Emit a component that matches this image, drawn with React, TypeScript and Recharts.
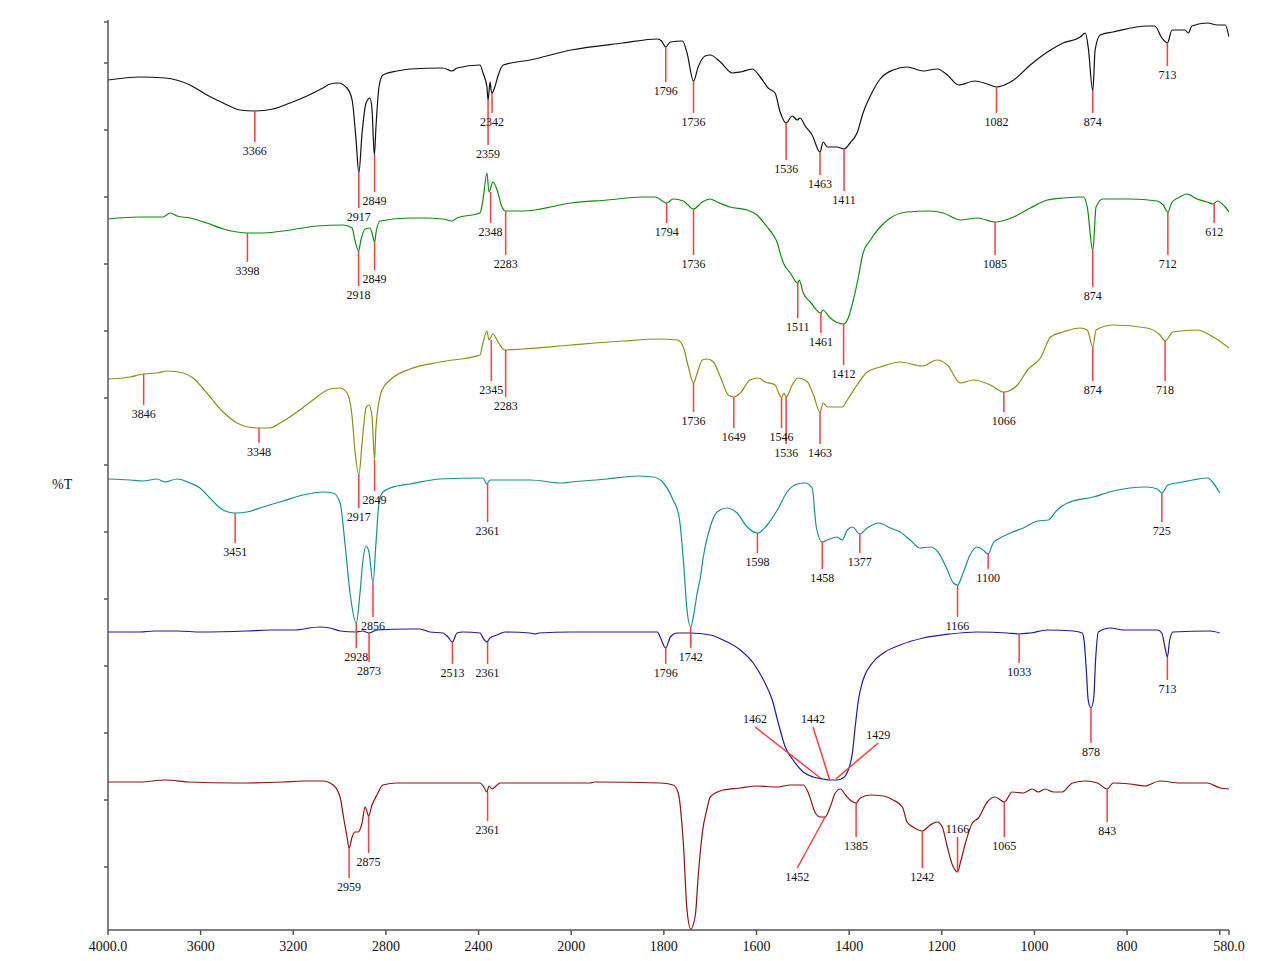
import { ComposedChart, Line, XAxis, YAxis, ReferenceLine, ReferenceDot } from "recharts";

// split wavenumber axis: 4000-2000 is squeezed 2x, 2000-580 is full scale
const toU = (w: number) => (w >= 2000 ? (4000 - w) / 2 : 3000 - w);
const fromU = (u: number) => (u <= 1000 ? 4000 - 2 * u : 3000 - u);

const xTicks = [4000, 3600, 3200, 2800, 2400, 2000, 1800, 1600, 1400, 1200, 1000, 800, 600, 580];
const yTicks = [63, 130, 197, 264, 331, 398, 465, 532, 599, 666, 733, 800, 867, 908];

// [wavenumber, %T (offset trace)]
const black: [number, number][] = [
  [4000, 850], [3862, 853], [3754, 852], [3646, 845], [3573, 835], [3503, 827], [3430, 820], [3366, 819],
  [3288, 821], [3214, 827], [3141, 834], [3072, 842], [3041, 846], [3007, 847], [2968, 842], [2946, 830],
  [2929, 790], [2917, 757], [2903, 797], [2886, 827], [2869, 832], [2860, 820], [2850, 775], [2843, 803],
  [2830, 843], [2813, 855], [2752, 859], [2696, 861], [2554, 862], [2515, 859], [2493, 862], [2394, 865],
  [2381, 857], [2364, 843], [2359, 830], [2353, 843], [2350, 848], [2346, 840], [2342, 837], [2330, 843],
  [2315, 855], [2294, 865], [2178, 870], [2000, 880], [1888, 887], [1814, 891], [1805, 889], [1796, 883],
  [1786, 888], [1760, 889], [1750, 877], [1736, 849], [1726, 863], [1711, 874], [1700, 875], [1678, 868],
  [1652, 857], [1635, 858], [1609, 861], [1592, 853], [1575, 842], [1560, 837], [1549, 818], [1536, 807],
  [1523, 814], [1512, 810], [1506, 812], [1495, 804], [1480, 795], [1463, 778], [1456, 788], [1447, 783],
  [1426, 783], [1411, 781], [1398, 787], [1383, 797], [1370, 817], [1350, 838], [1333, 851], [1305, 860],
  [1275, 863], [1240, 859], [1210, 861], [1188, 855], [1164, 845], [1128, 849], [1102, 846], [1082, 843],
  [1052, 848], [1045, 850], [1009, 865], [972, 878], [938, 887], [901, 893], [890, 897], [884, 883],
  [874, 839], [869, 880], [858, 895], [830, 898], [757, 904], [740, 904], [725, 892], [713, 887],
  [703, 900], [675, 900], [668, 897], [660, 904], [627, 907], [605, 905], [588, 905], [580, 893],
];

const green: [number, number][] = [
  [4000, 711], [3862, 713], [3763, 713], [3732, 717], [3702, 714], [3646, 712], [3573, 707], [3503, 701],
  [3443, 698], [3398, 697], [3331, 697], [3214, 700], [3098, 704], [2985, 705], [2946, 702], [2934, 690],
  [2918, 679], [2908, 690], [2890, 701], [2869, 702], [2860, 697], [2849, 688], [2843, 697], [2826, 709],
  [2696, 712], [2640, 712], [2554, 711], [2515, 709], [2493, 712], [2394, 717], [2381, 730], [2364, 757],
  [2355, 738], [2338, 748], [2320, 740], [2299, 723], [2283, 719], [2208, 719], [2000, 727], [1922, 730],
  [1845, 733], [1819, 733], [1794, 727], [1780, 731], [1758, 729], [1736, 721], [1717, 728], [1700, 731],
  [1685, 728], [1657, 723], [1620, 720], [1599, 715], [1577, 703], [1564, 695], [1555, 687], [1549, 677],
  [1542, 667], [1527, 657], [1511, 647], [1508, 650], [1499, 637], [1484, 628], [1461, 617], [1457, 620],
  [1441, 612], [1412, 606], [1402, 612], [1391, 630], [1380, 653], [1370, 677], [1354, 690], [1333, 703],
  [1311, 712], [1275, 718], [1225, 719], [1197, 717], [1160, 710], [1124, 712], [1085, 708], [1045, 713],
  [1009, 722], [972, 730], [938, 732], [894, 733], [886, 723], [874, 679], [867, 723], [852, 731],
  [794, 731], [735, 729], [722, 725], [712, 718], [703, 728], [686, 733], [671, 736], [649, 731],
  [627, 728], [614, 726], [605, 729], [588, 723], [580, 718],
];

const olive: [number, number][] = [
  [4000, 551], [3905, 553], [3849, 556], [3788, 557], [3745, 559], [3676, 557], [3633, 552], [3573, 537],
  [3503, 518], [3443, 507], [3396, 503], [3348, 502], [3300, 502], [3257, 507], [3184, 518], [3115, 530],
  [3041, 541], [2998, 542], [2968, 537], [2946, 513], [2934, 480], [2917, 455], [2903, 487], [2886, 522],
  [2873, 525], [2860, 513], [2849, 470], [2843, 503], [2817, 540], [2782, 550], [2696, 561], [2567, 568],
  [2394, 575], [2381, 587], [2364, 599], [2355, 590], [2338, 596], [2316, 588], [2286, 580], [2208, 581],
  [2000, 585], [1888, 589], [1814, 591], [1771, 590], [1758, 583], [1747, 563], [1736, 547], [1728, 557],
  [1717, 570], [1706, 571], [1693, 568], [1678, 553], [1661, 535], [1649, 533], [1635, 537], [1614, 550],
  [1596, 552], [1581, 548], [1560, 545], [1553, 538], [1546, 532], [1541, 537], [1536, 533], [1523, 545],
  [1510, 552], [1490, 548], [1477, 535], [1463, 518], [1456, 527], [1447, 523], [1415, 523], [1404, 530],
  [1383, 545], [1361, 558], [1333, 563], [1290, 568], [1242, 564], [1210, 570], [1188, 565], [1160, 547],
  [1132, 550], [1095, 545], [1066, 538], [1037, 545], [1015, 560], [987, 572], [965, 593], [938, 598],
  [901, 602], [886, 600], [874, 583], [867, 600], [830, 605], [757, 602], [729, 595], [718, 589],
  [701, 598], [649, 600], [614, 593], [580, 582],
];

const teal: [number, number][] = [
  [4000, 451], [3905, 450], [3849, 449], [3788, 451], [3754, 448], [3702, 451], [3646, 447], [3603, 442],
  [3560, 432], [3516, 422], [3482, 418], [3451, 417], [3400, 418], [3331, 423], [3244, 429], [3158, 435],
  [3072, 438], [3028, 437], [2998, 427], [2977, 387], [2955, 337], [2928, 307], [2912, 337], [2899, 370],
  [2886, 384], [2873, 378], [2856, 347], [2843, 387], [2830, 427], [2813, 438], [2752, 444], [2696, 446],
  [2567, 451], [2381, 452], [2364, 446], [2351, 450], [2178, 450], [2039, 447], [2000, 448], [1922, 451],
  [1857, 454], [1823, 453], [1801, 447], [1780, 430], [1767, 413], [1758, 370], [1750, 320], [1742, 303],
  [1734, 320], [1728, 337], [1721, 353], [1715, 373], [1700, 403], [1685, 418], [1663, 422], [1642, 417],
  [1620, 403], [1598, 397], [1577, 405], [1555, 420], [1534, 438], [1512, 446], [1495, 447], [1480, 442],
  [1471, 403], [1458, 388], [1447, 390], [1426, 393], [1415, 390], [1404, 400], [1393, 403], [1377, 396],
  [1361, 402], [1337, 407], [1311, 402], [1290, 398], [1268, 390], [1247, 382], [1225, 383], [1208, 378],
  [1188, 360], [1175, 347], [1166, 345], [1154, 357], [1139, 375], [1124, 383], [1111, 380], [1100, 376],
  [1089, 387], [1074, 392], [1052, 397], [1024, 402], [993, 409], [970, 410], [951, 420], [929, 427],
  [873, 433], [830, 439], [794, 442], [757, 443], [735, 441], [725, 437], [712, 445], [680, 448],
  [658, 450], [626, 452], [614, 447], [600, 437],
];

const blue: [number, number][] = [
  [4000, 298], [3862, 298], [3800, 299], [3700, 299], [3600, 298], [3400, 299], [3300, 300], [3200, 300],
  [3085, 303], [3041, 302], [2998, 299], [2929, 298], [2900, 299], [2873, 297], [2839, 300], [2696, 301],
  [2653, 301], [2610, 298], [2554, 297], [2532, 293], [2513, 288], [2493, 297], [2467, 298], [2394, 297],
  [2381, 292], [2364, 288], [2351, 292], [2320, 295], [2286, 298], [2178, 297], [2156, 296], [2140, 297],
  [2000, 298], [1814, 298], [1808, 293], [1796, 282], [1786, 293], [1771, 297], [1743, 297], [1700, 295],
  [1672, 290], [1635, 280], [1607, 267], [1585, 250], [1566, 230], [1553, 207], [1538, 183], [1521, 170],
  [1499, 158], [1478, 153], [1456, 151], [1442, 150], [1426, 150], [1413, 152], [1402, 160], [1393, 177],
  [1387, 203], [1380, 230], [1370, 250], [1350, 267], [1326, 277], [1290, 285], [1240, 292], [1182, 296],
  [1124, 298], [1059, 297], [1033, 296], [1009, 297], [972, 300], [916, 299], [897, 297], [893, 290],
  [888, 260], [884, 230], [878, 222], [872, 232], [868, 270], [862, 298], [836, 302], [808, 300],
  [735, 300], [725, 297], [718, 282], [713, 273], [708, 290], [701, 298], [621, 299], [600, 297],
];

const red: [number, number][] = [
  [4000, 148], [3862, 148], [3754, 150], [3646, 148], [3460, 147], [3244, 148], [3158, 149], [3072, 149],
  [3028, 145], [2998, 133], [2981, 110], [2968, 93], [2959, 82], [2946, 93], [2934, 98], [2920, 98],
  [2903, 107], [2890, 123], [2884, 120], [2875, 114], [2860, 125], [2839, 135], [2813, 145], [2752, 147],
  [2394, 147], [2375, 142], [2364, 138], [2355, 144], [2342, 141], [2320, 145], [2307, 147], [1959, 147],
  [1950, 148], [1808, 147], [1780, 145], [1769, 137], [1758, 87], [1750, 20], [1742, 1], [1732, 15],
  [1726, 53], [1717, 97], [1706, 123], [1700, 133], [1672, 140], [1635, 142], [1599, 144], [1555, 143],
  [1527, 145], [1499, 145], [1488, 137], [1473, 117], [1462, 113], [1452, 113], [1441, 123], [1430, 137],
  [1419, 141], [1408, 135], [1398, 130], [1385, 127], [1376, 132], [1354, 135], [1326, 134], [1305, 130],
  [1285, 123], [1275, 108], [1262, 103], [1242, 99], [1225, 105], [1210, 108], [1199, 103], [1188, 83],
  [1177, 65], [1166, 58], [1160, 67], [1149, 87], [1134, 107], [1121, 112], [1102, 128], [1085, 133],
  [1065, 128], [1048, 138], [1024, 137], [1005, 141], [992, 138], [977, 141], [959, 138], [940, 138],
  [918, 147], [890, 149], [864, 147], [843, 141], [830, 147], [794, 146], [762, 144], [729, 149],
  [686, 147], [627, 147], [599, 142], [580, 141],
];

// peak marks: [peak wavenumber, value at peak, value at end of red tick, wavenumber at end (slanted ticks)]
type Peak = [number, number, number, number?];
const blackPeaks: Peak[] = [
  [3366, 819, 788], [2917, 757, 722], [2849, 775, 738], [2359, 830, 785], [2342, 837, 817],
  [1796, 883, 848], [1736, 849, 817], [1536, 807, 770], [1463, 778, 755], [1411, 781, 739],
  [1082, 843, 817], [874, 839, 817], [713, 887, 864],
];
const greenPeaks: Peak[] = [
  [3398, 697, 668], [2918, 679, 644], [2849, 688, 660], [2348, 738, 707], [2283, 719, 675],
  [1794, 727, 707], [1736, 721, 675], [1511, 647, 612], [1461, 617, 597], [1412, 606, 565],
  [1085, 708, 675], [874, 679, 643], [712, 718, 675], [612, 726, 707],
];
const olivePeaks: Peak[] = [
  [3846, 556, 525], [3348, 502, 487], [2917, 455, 422], [2849, 470, 439], [2345, 590, 549],
  [2283, 580, 533], [1736, 547, 518], [1649, 533, 502], [1546, 532, 502], [1536, 533, 486],
  [1463, 518, 486], [1066, 538, 518], [874, 583, 549], [718, 589, 549],
];
const tealPeaks: Peak[] = [
  [3451, 417, 387], [2928, 307, 282], [2856, 347, 313], [2361, 446, 408], [1742, 303, 282],
  [1598, 397, 377], [1458, 388, 361], [1377, 396, 377], [1166, 345, 313], [1100, 376, 361],
  [725, 437, 408],
];
const bluePeaks: Peak[] = [
  [2873, 297, 268], [2513, 288, 266], [2361, 288, 266], [1796, 282, 266], [1033, 296, 267],
  [878, 222, 187], [713, 273, 250], [1462, 152, 203, 1603], [1442, 150, 203, 1478],
  [1429, 151, 187, 1337],
];
const redPeaks: Peak[] = [
  [2959, 82, 52], [2875, 114, 77], [2361, 138, 109], [1452, 113, 62, 1512], [1385, 127, 93],
  [1242, 99, 62], [1166, 58, 93], [1065, 128, 93], [843, 141, 108],
];

const traces = [
  { name: "black", points: black, peaks: blackPeaks, color: "#111111" },
  { name: "green", points: green, peaks: greenPeaks, color: "#0e8a0e" },
  { name: "olive", points: olive, peaks: olivePeaks, color: "#8e8e12" },
  { name: "teal", points: teal, peaks: tealPeaks, color: "#159191" },
  { name: "blue", points: blue, peaks: bluePeaks, color: "#1c1c9c" },
  { name: "red", points: red, peaks: redPeaks, color: "#8e1212" },
];

const serif = "'Liberation Serif', 'DejaVu Serif', serif";

const tickText = (u: number) => {
  const w = Math.round(fromU(u));
  if (w === 600) return "";
  if (w === 4000 || w === 580) return w.toFixed(1);
  return String(w);
};

export default function App() {
  const marks = traces.flatMap((tr) =>
    tr.peaks.map(([peak, tip, end, endWn]) => ({
      key: `${tr.name}-${peak}`,
      peak,
      tip,
      end,
      endWn: endWn ?? peak,
    }))
  );

  return (
    <div style={{ width: 1253, height: 953, fontFamily: serif }}>
      <ComposedChart width={1253} height={953} margin={{ top: 12, right: 32, bottom: 0, left: 60 }}>
        <XAxis
          type="number"
          dataKey="u"
          domain={[0, 2420]}
          ticks={xTicks.map(toU)}
          interval={0}
          tickFormatter={tickText}
          height={31}
          tickSize={5}
          tickMargin={6}
          stroke="#555"
          strokeWidth={1.5}
          tick={{ fill: "#111", fontSize: 14, fontFamily: serif }}
          allowDataOverflow
        />
        <YAxis
          type="number"
          domain={[0, 910]}
          ticks={yTicks}
          width={40}
          tickSize={4}
          tickFormatter={() => ""}
          stroke="#555"
          strokeWidth={1.5}
          allowDataOverflow
          label={{ value: "%T", position: "insideLeft", offset: -16, dy: 9, fill: "#111", fontSize: 14, fontFamily: serif }}
        />
        {traces.map((tr) => (
          <Line
            key={tr.name}
            data={tr.points.map(([w, t]) => ({ u: toU(w), t }))}
            dataKey="t"
            type="monotone"
            stroke={tr.color}
            strokeWidth={1.2}
            dot={false}
            activeDot={false}
            isAnimationActive={false}
          />
        ))}
        {marks.map((m) => (
          <ReferenceLine
            key={`l-${m.key}`}
            segment={[
              { x: toU(m.peak), y: m.tip },
              { x: toU(m.endWn), y: m.end },
            ]}
            stroke="#ff3c3c"
            strokeWidth={1.5}
          />
        ))}
        {marks.map((m) => (
          <ReferenceDot
            key={`t-${m.key}`}
            x={toU(m.endWn)}
            y={m.end}
            r={0}
            shape={(p: any) => (
              <text
                x={p.cx}
                y={p.cy + (m.end > m.tip ? -8 : 8.5)}
                dy="0.35em"
                textAnchor="middle"
                fontSize={12}
                fontFamily={serif}
                fill="#111"
              >
                {m.peak}
              </text>
            )}
          />
        ))}
      </ComposedChart>
    </div>
  );
}
